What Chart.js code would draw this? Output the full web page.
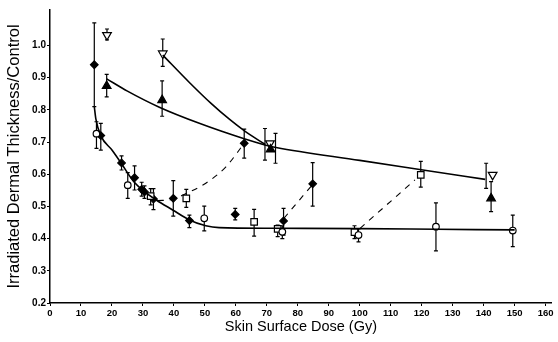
<!DOCTYPE html>
<html>
<head>
<meta charset="utf-8">
<script src="https://cdn.jsdelivr.net/npm/chart.js@4.4.1/dist/chart.umd.min.js"></script>
<style>
  html, body { margin: 0; padding: 0; background: #fff; }
  #c { display: block; }
</style>
</head>
<body>
<canvas id="c" width="558" height="342"></canvas>
<script>
// Axis ticks
const doseTicks = [0, 10, 20, 30, 40, 50, 60, 70, 80, 90, 100, 110, 120, 130, 140, 150, 160];
const ratioTicks = [0.2, 0.3, 0.4, 0.5, 0.6, 0.7, 0.8, 0.9, 1.0];

// Filled diamonds
const filledDose  = [14.3, 16.4, 23.1, 27.3, 29.6, 30.5, 33.4, 39.8, 45.0, 59.8, 62.7, 75.4, 84.8];
const filledRatio = [0.94, 0.72, 0.635, 0.589, 0.553, 0.545, 0.523, 0.525, 0.456, 0.475, 0.696, 0.455, 0.570];
const filledLow   = [0.81, 0.675, 0.613, 0.551, 0.532, 0.525, 0.490, 0.470, 0.434, 0.458, 0.650, 0.411, 0.501];
const filledHigh  = [1.07, 0.758, 0.657, 0.626, 0.575, 0.564, 0.555, 0.580, 0.473, 0.494, 0.740, 0.494, 0.636];

// Open circles
const circleDose  = [15.0, 25.1, 49.8, 75.0, 99.6, 124.6, 149.4];
const circleRatio = [0.726, 0.566, 0.463, 0.421, 0.411, 0.437, 0.425];
const circleLow   = [0.680, 0.525, 0.424, 0.400, 0.390, 0.362, 0.375];
const circleHigh  = [0.763, 0.605, 0.501, 0.440, 0.430, 0.511, 0.473];

// Open squares
const squareDose  = [32.5, 44.0, 65.9, 73.5, 98.3, 119.7];
const squareRatio = [0.532, 0.525, 0.452, 0.430, 0.420, 0.598];
const squareLow   = [0.505, 0.497, 0.408, 0.406, 0.400, 0.560];
const squareHigh  = [0.555, 0.553, 0.491, 0.442, 0.440, 0.640];

// Filled triangles
const triDose   = [18.3, 36.2, 71.2, 142.4];
const triRatio  = [0.874, 0.830, 0.677, 0.525];
const triLow    = [0.840, 0.780, 0.634, 0.484];
const triHigh   = [0.910, 0.890, 0.727, 0.577];
const triBarAt  = [18.3, 36.2, 72.8, 142.4];

// Open inverted triangles
const invDose   = [18.4, 36.4, 71.0, 142.9];
const invRatio  = [1.032, 0.975, 0.696, 0.598];
const invLow    = [1.017, 0.935, 0.644, 0.556];
const invHigh   = [1.051, 1.020, 0.742, 0.634];
const invBarAt  = [18.4, 36.4, 69.4, 140.8];

// Fitted curves (solid)
const mainCurveDose  = [14.3, 14.8, 16.4, 20.0, 23.0, 26.8, 30.0, 34.3, 39.6, 45.0, 50.3, 54.6, 71.7, 100.0, 125.0, 150.0];
const mainCurveRatio = [0.810, 0.772, 0.720, 0.675, 0.634, 0.580, 0.550, 0.520, 0.489, 0.458, 0.440, 0.434, 0.432, 0.431, 0.429, 0.427];
const triCurveDose   = [18.3, 25.0, 35.3, 48.2, 62.7, 69.4, 73.0, 100.0, 122.0, 140.5];
const triCurveRatio  = [0.896, 0.858, 0.808, 0.758, 0.710, 0.691, 0.683, 0.643, 0.611, 0.584];
const invCurveDose   = [36.4, 45.0, 52.0, 58.0, 63.0, 69.4];
const invCurveRatio  = [0.970, 0.885, 0.820, 0.770, 0.733, 0.693];

// Dashed recovery paths
const dashADose  = [34.8, 39.6, 43.9, 50.3, 56.8, 62.7];
const dashARatio = [0.518, 0.522, 0.540, 0.572, 0.623, 0.696];
const dashBDose  = [75.5, 84.6];
const dashBRatio = [0.463, 0.566];
const dashCDose  = [100.1, 117.8];
const dashCRatio = [0.432, 0.582];

const pts = (xs, ys) => xs.map((v, i) => ({ x: v, y: ys[i] }));

const FONT = "'Liberation Sans', Arial, sans-serif";

// Vertical error bars with small caps, drawn beneath the markers
const errorBars = {
  id: 'errorBars',
  beforeDatasetsDraw(chart) {
    const { ctx, scales: { x, y } } = chart;
    ctx.save();
    ctx.strokeStyle = '#000';
    ctx.lineWidth = 1.2;
    chart.data.datasets.forEach(ds => {
      if (!ds.errLow) return;
      ds.data.forEach((p, i) => {
        const px = x.getPixelForValue(ds.errAt ? ds.errAt[i] : p.x);
        const y1 = y.getPixelForValue(ds.errLow[i]);
        const y2 = y.getPixelForValue(ds.errHigh[i]);
        ctx.beginPath();
        ctx.moveTo(px, y1); ctx.lineTo(px, y2);
        ctx.moveTo(px - 2, y1); ctx.lineTo(px + 2, y1);
        ctx.moveTo(px - 2, y2); ctx.lineTo(px + 2, y2);
        ctx.stroke();
      });
    });
    ctx.restore();
  }
};

const curve = (xs, ys, dashed) => ({
  data: pts(xs, ys),
  showLine: true,
  borderColor: '#000',
  borderWidth: dashed ? 1.1 : 1.6,
  borderDash: dashed ? [6, 6] : [],
  pointRadius: 0,
  cubicInterpolationMode: 'monotone',
  fill: false
});

const markers = (xs, ys, lo, hi, style, opts) => Object.assign({
  data: pts(xs, ys),
  showLine: false,
  pointStyle: style,
  pointRadius: 4,
  pointBorderColor: '#000',
  pointBorderWidth: 1.2,
  errLow: lo,
  errHigh: hi
}, opts);

new Chart(document.getElementById('c'), {
  type: 'scatter',
  data: {
    datasets: [
      curve(mainCurveDose, mainCurveRatio, false),
      curve(triCurveDose, triCurveRatio, false),
      curve(invCurveDose, invCurveRatio, false),
      curve(dashADose, dashARatio, true),
      curve(dashBDose, dashBRatio, true),
      curve(dashCDose, dashCRatio, true),
      markers(circleDose, circleRatio, circleLow, circleHigh, 'circle',
        { pointRadius: 3.3, pointBackgroundColor: '#fff' }),
      markers(squareDose, squareRatio, squareLow, squareHigh, 'rect',
        { pointRadius: 4.6, pointBackgroundColor: '#fff' }),
      markers(filledDose, filledRatio, filledLow, filledHigh, 'rectRot',
        { pointRadius: 3.8, pointBackgroundColor: '#000' }),
      markers(triDose, triRatio, triLow, triHigh, 'triangle',
        { pointRadius: 5, pointBackgroundColor: '#000', errAt: triBarAt }),
      markers(invDose, invRatio, invLow, invHigh, 'triangle',
        { pointRadius: 5, pointRotation: 180, pointBackgroundColor: '#fff', errAt: invBarAt })
    ]
  },
  options: {
    responsive: false,
    animation: false,
    events: [],
    layout: { padding: { top: 10, right: 4, left: 0, bottom: 0 } },
    plugins: { legend: { display: false }, tooltip: { enabled: false } },
    scales: {
      x: {
        type: 'linear',
        min: 0,
        max: 162,
        afterBuildTicks: s => { s.ticks = doseTicks.map(v => ({ value: v })); },
        afterFit: s => { s.height = 39; },
        border: { display: true, color: '#000', width: 1.6 },
        grid: { drawOnChartArea: false, drawTicks: true, tickLength: 3, color: '#000' },
        ticks: {
          color: '#000', padding: 2, autoSkip: false, maxRotation: 0,
          font: { family: FONT, size: 9.5, weight: 'bold' }
        },
        title: {
          display: true,
          text: 'Skin Surface Dose (Gy)',
          color: '#000',
          font: { family: FONT, size: 14.5 },
          padding: { top: 0, bottom: 6 }
        }
      },
      y: {
        type: 'linear',
        min: 0.2,
        max: 1.11,
        afterBuildTicks: s => { s.ticks = ratioTicks.map(v => ({ value: v })); },
        afterFit: s => { s.width = 50; },
        border: { display: true, color: '#000', width: 1.5 },
        grid: { drawOnChartArea: false, drawTicks: true, tickLength: 3, color: '#000' },
        ticks: {
          color: '#000', padding: 1,
          font: { family: FONT, size: 10, weight: 'bold' },
          callback: v => v.toFixed(1)
        },
        title: {
          display: true,
          text: 'Irradiated Dermal Thickness/Control',
          color: '#000',
          font: { family: FONT, size: 16.5 },
          padding: { top: 5, bottom: 0 }
        }
      }
    }
  },
  plugins: [errorBars]
});
</script>
</body>
</html>
